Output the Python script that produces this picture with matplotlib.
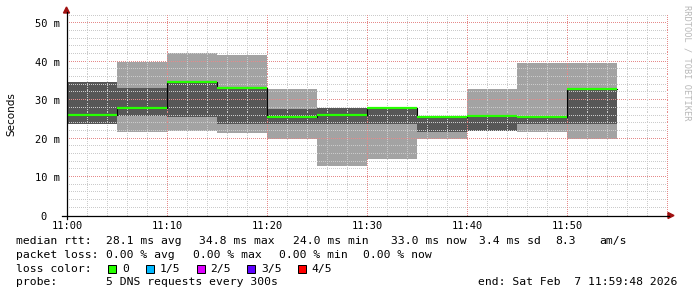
import numpy as np
import matplotlib
matplotlib.use('Agg')
import matplotlib.pyplot as plt
from matplotlib.patches import Rectangle, Polygon
from matplotlib.lines import Line2D

# data: 5-minute steps starting at 11:00 (minutes after 11:00)
starts = [0, 5, 10, 15, 20, 25, 30, 35, 40, 45, 50]
rtt_min = [23.8, 21.6, 22.1, 21.5, 19.9, 13.0, 14.7, 19.9, 22.1, 21.6, 19.8]
rtt_low = [23.8, 25.8, 25.6, 23.8, 23.8, 23.8, 23.8, 21.7, 22.1, 23.7, 23.7]
rtt_med = [26.1, 28.0, 34.8, 33.2, 25.6, 26.1, 27.9, 25.6, 26.0, 25.6, 33.0]
rtt_high = [34.7, 33.1, 34.5, 33.1, 27.8, 27.9, 27.9, 25.6, 26.0, 25.6, 32.8]
rtt_max = [34.7, 39.9, 42.2, 41.7, 33.0, 27.9, 27.9, 25.6, 32.8, 39.8, 39.8]
step = 5

xticks = [0, 10, 20, 30, 40, 50]
xlabels = ['11:00', '11:10', '11:20', '11:30', '11:40', '11:50']
yticks = [0, 10, 20, 30, 40, 50]
ylabels = ['0  ', '10 m', '20 m', '30 m', '40 m', '50 m']

loss_labels = ['0', '1/5', '2/5', '3/5', '4/5']
loss_colors = ['#26ff00', '#00b8ff', '#dd00ff', '#5e00ff', '#ff0000']

W, H = 697, 297
mono = 'DejaVu Sans Mono'
XMAX, YMAX = 60, 52.5

fig = plt.figure(figsize=(W / 100, H / 100), dpi=100)
ax = fig.add_axes([67 / W, (H - 215.5) / H, 600 / W, 201.8 / H])

def stepped(vals):
    x = np.append(starts, starts[-1] + step)
    y = np.append(vals, vals[-1])
    return x, y

x, lo = stepped(rtt_min)
_, hi = stepped(rtt_max)
ax.fill_between(x, lo, hi, step='post', color='#a3a3a3', lw=0)
_, lo = stepped(rtt_low)
_, hi = stepped(rtt_high)
ax.fill_between(x, lo, hi, step='post', color='#575757', lw=0)

# dotted grid, one pixel dot every two pixels
dx = XMAX / 600 * 2
dy = YMAX / 201.8 * 2
xs = np.arange(0, XMAX, dx)
ys = np.arange(0, YMAX, dy)
major_c, minor_c = '#e58a8a', '#cbcbcb'
for gy in np.arange(2, YMAX, 2):
    c = major_c if gy % 10 == 0 else minor_c
    ax.plot(xs, np.full_like(xs, gy), ',', color=c, zorder=1.5)
for gx in np.arange(2, XMAX + 1, 2):
    c = major_c if gx % 10 == 0 else minor_c
    ax.plot(np.full_like(ys, gx), ys, ',', color=c, zorder=1.5)

# median: black risers, green levels
xm, ym = stepped(rtt_med)
ax.step(xm, ym, where='post', color='black', lw=0.8, zorder=3)
ax.hlines(rtt_med, starts, np.array(starts) + step, color='#26ff00', lw=1.6, zorder=4)

ax.set_xlim(0, XMAX)
ax.set_ylim(0, YMAX)
ax.set_xticks(xticks)
ax.set_xticklabels(xlabels, family=mono, size=7.5)
ax.set_yticks(yticks)
ax.set_yticklabels(ylabels, family=mono, size=7.5)
ax.tick_params(which='both', length=0)
ax.tick_params(axis='x', pad=4)
ax.tick_params(axis='y', pad=5)
for s in ax.spines.values():
    s.set_visible(False)

# axes lines with arrows (pixel coordinates)
px = lambda xx, yy: (xx / W, 1 - yy / H)
fig.add_artist(Line2D([62 / W, 669 / W], [1 - 215.5 / H] * 2, color='black', lw=0.9, transform=fig.transFigure))
fig.add_artist(Line2D([66.5 / W] * 2, [1 - 219 / H, 1 - 12 / H], color='black', lw=0.9, transform=fig.transFigure))
fig.add_artist(Polygon([px(668, 212.5), px(674, 215.5), px(668, 218.5)], closed=True,
                       color='#a01010', transform=fig.transFigure))
fig.add_artist(Polygon([px(63.5, 13), px(66.5, 7), px(69.5, 13)], closed=True,
                       color='#a01010', transform=fig.transFigure))

fig.text(11 / W, 1 - 114 / H, 'Seconds', rotation=90, ha='center', va='center', size=7.5)
fig.text(687 / W, 1 - 5 / H, 'RRDTOOL / TOBI OETIKER', rotation=-90, ha='center', va='top',
         family=mono, size=6.2, color='#b8b8b8')

def t(xx, yy, s):
    fig.text(xx / W, 1 - yy / H, s, ha='left', va='center', family=mono, size=8.2)

y1, y2, y3, y4 = 241.3, 254.7, 269, 282.3
for xx, s in [(16, 'median rtt:'), (106.5, '28.1 ms avg'), (199.3, '34.8 ms max'),
              (292.6, '24.0 ms min'), (391, '33.0 ms now'), (479.3, '3.4 ms sd'),
              (555.3, '8.3'), (599.3, 'am/s')]:
    t(xx, y1, s)
for xx, s in [(16, 'packet loss:'), (106.5, '0.00 % avg'), (192.6, '0.00 % max'),
              (278.6, '0.00 % min'), (363.3, '0.00 % now')]:
    t(xx, y2, s)
t(16, y3, 'loss color:')
sq_x = [108, 145.7, 196.7, 247.3, 298.3]
lab_x = [122.6, 159.3, 210, 261, 311.6]
for sx, lx, lab, c in zip(sq_x, lab_x, loss_labels, loss_colors):
    fig.add_artist(Rectangle((sx / W, 1 - 273 / H), 8 / W, 8 / H, transform=fig.transFigure,
                             fc=c, ec='black', lw=0.72))
    t(lx, y3, lab)
t(16, y4, 'probe:')
t(106.5, y4, '5 DNS requests every 300s')
t(477.6, y4, 'end: Sat Feb  7 11:59:48 2026')

fig.savefig('out.png', dpi=100)
